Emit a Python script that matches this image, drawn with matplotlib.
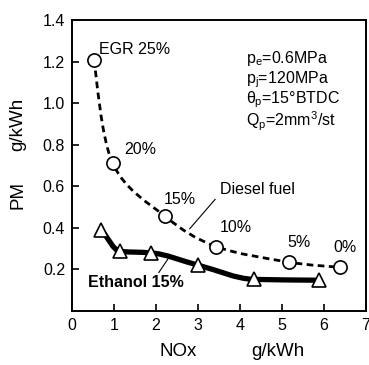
import numpy as np
import matplotlib
matplotlib.use("Agg")
import matplotlib.pyplot as plt
from matplotlib.path import Path
from matplotlib.patches import PathPatch

plt.rcParams['font.family'] = ['Liberation Sans', 'DejaVu Sans']
plt.rcParams['mathtext.fontset'] = 'custom'
plt.rcParams['mathtext.rm'] = 'Liberation Sans'
plt.rcParams['mathtext.it'] = 'Liberation Sans'

# NOx / PM trade-off, g/kWh
diesel_nox = [0.52, 0.97, 2.22, 3.43, 5.17, 6.39]
diesel_pm = [1.21, 0.71, 0.455, 0.31, 0.235, 0.21]
egr_labels = ["EGR 25%", "20%", "15%", "10%", "5%", "0%"]

ethanol_nox = [0.70, 1.14, 1.87, 3.01, 4.34, 5.89]
ethanol_pm = [0.39, 0.287, 0.28, 0.22, 0.152, 0.148]

conditions = [r"p$_e$=0.6MPa", r"p$_j$=120MPa",
              r"$\theta_p$=15°BTDC", r"Q$_p$=2mm$^3$/st"]


def catmull_path(xs, ys):
    # Catmull-Rom through the points, written as cubic Bezier segments
    pts = np.column_stack([xs, ys])
    n = len(pts)
    verts = [pts[0]]
    codes = [Path.MOVETO]
    for i in range(n - 1):
        p0 = pts[max(i - 1, 0)]
        p1 = pts[i]
        p2 = pts[i + 1]
        p3 = pts[min(i + 2, n - 1)]
        verts += [p1 + (p2 - p0) / 6.0, p2 - (p3 - p1) / 6.0, p2]
        codes += [Path.CURVE4] * 3
    return Path(verts, codes)


def monotone_path(xs, ys):
    # Fritsch-Carlson slopes, no overshoot between points
    x = np.asarray(xs, float)
    y = np.asarray(ys, float)
    h = np.diff(x)
    d = np.diff(y) / h
    m = np.empty_like(y)
    m[0], m[-1] = d[0], d[-1]
    for i in range(1, len(x) - 1):
        if d[i - 1] * d[i] <= 0:
            m[i] = 0.0
        else:
            w1 = 2 * h[i] + h[i - 1]
            w2 = h[i] + 2 * h[i - 1]
            m[i] = (w1 + w2) / (w1 / d[i - 1] + w2 / d[i])
    verts = [(x[0], y[0])]
    codes = [Path.MOVETO]
    for i in range(len(x) - 1):
        verts += [(x[i] + h[i] / 3, y[i] + m[i] * h[i] / 3),
                  (x[i + 1] - h[i] / 3, y[i + 1] - m[i + 1] * h[i] / 3),
                  (x[i + 1], y[i + 1])]
        codes += [Path.CURVE4] * 3
    return Path(verts, codes)


fig = plt.figure(figsize=(3.69, 3.65), dpi=100)
ax = fig.add_axes([0.195, 0.148, 0.797, 0.797])

ax.add_patch(PathPatch(catmull_path(diesel_nox, diesel_pm), fill=False,
                       ec='black', lw=2.0, ls=(0, (2.4, 1.6)), zorder=2))
ax.add_patch(PathPatch(monotone_path(ethanol_nox, ethanol_pm), fill=False,
                       ec='black', lw=3.8, capstyle='round', zorder=2))

ax.plot(diesel_nox, diesel_pm, ls='none', marker='o', ms=9.5, mfc='white',
        mec='black', mew=1.2, zorder=3)
ax.plot(ethanol_nox, ethanol_pm, ls='none', marker='^', ms=10.5, mfc='white',
        mec='black', mew=1.2, zorder=3)

offsets = [(4, 2), (8, 5), (-1, 7), (3, 8), (-1, 9), (-5, 9)]
for x, y, lab, off in zip(diesel_nox, diesel_pm, egr_labels, offsets):
    ax.annotate(lab, (x, y), xytext=off, textcoords='offset points',
                fontsize=11.5, ha='left', va='bottom')

ax.annotate("Diesel fuel", xy=(2.8, 0.395), xytext=(3.52, 0.585),
            fontsize=11.5, ha='left', va='center',
            arrowprops=dict(arrowstyle='-', lw=0.8, color='black',
                            shrinkA=2, shrinkB=0, relpos=(0.0, 0.2)))
ax.annotate("Ethanol 15%", xy=(2.3, 0.255), xytext=(0.38, 0.135),
            fontsize=11.5, fontweight='bold', ha='left', va='center',
            arrowprops=dict(arrowstyle='-', lw=0.8, color='black',
                            shrinkA=0, shrinkB=0, relpos=(0.72, 1.0)))

for i, txt in enumerate(conditions):
    ax.text(4.15, 1.215 - i * 0.1, txt, fontsize=11.5, ha='left', va='center')

ax.set_xlim(0, 7)
ax.set_ylim(0, 1.4)
ax.set_xticks(range(0, 8))
ax.set_yticks([0.2, 0.4, 0.6, 0.8, 1.0, 1.2, 1.4])
ax.set_yticklabels(["0.2", "0.4", "0.6", "0.8", "1.0", "1.2", "1.4"])
ax.tick_params(direction='in', length=5, width=1.2, labelsize=11.5, pad=5)
for s in ax.spines.values():
    s.set_linewidth(1.4)

# axis titles: quantity and unit set apart
fig.text(0.482, 0.036, "NOx", fontsize=13.5, ha='center', va='center')
fig.text(0.753, 0.036, "g/kWh", fontsize=13.5, ha='center', va='center')
fig.text(0.049, 0.466, "PM", fontsize=13.5, ha='center', va='center',
         rotation=90)
fig.text(0.049, 0.660, "g/kWh", fontsize=13.5, ha='center', va='center',
         rotation=90)

fig.savefig("out.png", dpi=100)
